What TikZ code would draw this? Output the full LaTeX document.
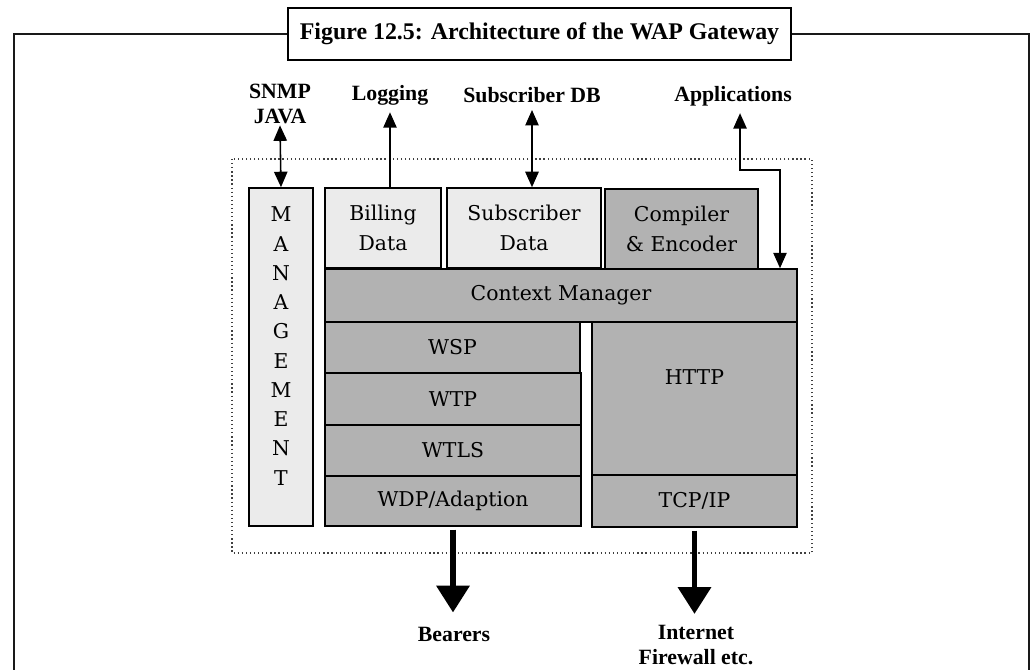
\documentclass[tikz,border=0pt]{standalone}
\usepackage{fontspec}
\setmainfont{Liberation Serif}
\newfontfamily\boxfont{DejaVu Serif}
\usetikzlibrary{arrows.meta}

\begin{document}
\begin{tikzpicture}[x=0.025cm, y=-0.025cm,
    frame/.style={line width=1.5pt, black!90},
    titlebox/.style={draw, line width=1.4pt, fill=white, inner sep=0pt,
        minimum width=12.575cm, minimum height=1.3cm,
        font=\bfseries\fontsize{17}{20}\selectfont},
    layer/.style={draw=black, line width=1.1pt, fill=black!30, inner sep=0pt,
        align=center, font=\boxfont\fontsize{14.5}{21}\selectfont},
    store/.style={layer, fill=black!8},
    lbl/.style={font=\bfseries\fontsize{15.5}{17.5}\selectfont, align=center,
        inner sep=1pt},
    thinarrow/.style={line width=1.1pt, -{Triangle[width=9.5pt,length=11pt]}},
    bothways/.style={line width=1.1pt,
        {Triangle[width=9.5pt,length=11pt]}-{Triangle[width=9.5pt,length=11pt]}},
    fatarrow/.style={line width=3.8pt, -{Triangle[width=23pt,length=19pt]},
        shorten <=2pt}]

  \useasboundingbox (0,0) rectangle (1032,670);

  % ---- outer frame and title ----
  \node[titlebox] (title) at (539.5,34)
      {Figure 12.5: Architecture of the WAP Gateway};
  \draw[frame] (title.west) -- (14,34) -- (14,672);
  \draw[frame] (title.east) -- (1029,34) -- (1029,672);

  % ---- the gateway, dotted ----
  \draw[dotted, line width=0.9pt, black!75] (232,159) rectangle (812,553);

  % ---- management column ----
  \node[store, minimum width=1.6cm, minimum height=8.45cm] (mgmt)
      at (281,357) {};
  \node[layer, draw=none, fill=none, font=\boxfont\fontsize{14.5}{20.8}\selectfont]
      (mgmttext) at (281,346) {M\\A\\N\\A\\G\\E\\M\\E\\N\\T};

  % ---- data stores and compiler ----
  \node[store, minimum width=2.9cm, minimum height=2cm] (billing)
      at (383,228) {Billing\\Data};
  \node[store, minimum width=3.85cm, minimum height=2cm] (subdata)
      at (524,228) {Subscriber\\Data};
  \node[layer, minimum width=3.825cm, minimum height=2cm] (compiler)
      at (681.5,229) {Compiler\\\& Encoder};

  % ---- the protocol stack ----
  \node[layer, minimum width=11.8cm, minimum height=1.325cm] (ctx)
      at (561,295.5) {Context Manager};
  \node[layer, minimum width=6.375cm, minimum height=1.275cm] (wsp)
      at (452.5,347.5) {WSP};
  \node[layer, minimum width=6.4cm, minimum height=1.3cm] (wtp)
      at (453,399) {WTP};
  \node[layer, minimum width=6.4cm, minimum height=1.275cm] (wtls)
      at (453,450.5) {WTLS};
  \node[layer, minimum width=6.4cm, minimum height=1.25cm] (wdp)
      at (453,501) {WDP/Adaption};
  \node[layer, minimum width=5.125cm, minimum height=3.825cm,
      label={[layer, draw=none, fill=none, yshift=15pt]center:HTTP}] (http)
      at (694.5,398.5) {};
  \node[layer, minimum width=5.125cm, minimum height=1.3cm] (tcpip)
      at (694.5,501) {TCP/IP};

  % ---- outside parties ----
  \node[lbl] (snmp) at (280,104) {SNMP\\JAVA};
  \node[lbl] (logging) at (390,95) {Logging};
  \node[lbl] (subdb) at (532,95) {Subscriber DB};
  \node[lbl] (apps) at (733,96) {Applications};
  \node[lbl] (bearers) at (454,634) {Bearers};
  \node[lbl] (internet) at (696,645) {Internet\\Firewall etc.};

  % ---- connectors ----
  \draw[bothways] (snmp.south) -- (mgmt.north);
  \draw[thinarrow, shorten >=4pt] (billing.north -| logging.south) -- (logging.south);
  \draw[bothways, shorten <=4pt] (subdb.south) -- (subdb.south |- subdata.north);
  \coordinate (appbend) at (780,170);
  \draw[bothways, shorten <=4pt] ([xshift=5pt]apps.south) |- (appbend)
      -- (appbend |- ctx.north);
  \draw[fatarrow, shorten >=9pt] (wdp.south) -- (wdp.south |- bearers.north);
  \draw[fatarrow, shorten >=7pt] (tcpip.south) -- (tcpip.south |- internet.north);

\end{tikzpicture}
\end{document}
